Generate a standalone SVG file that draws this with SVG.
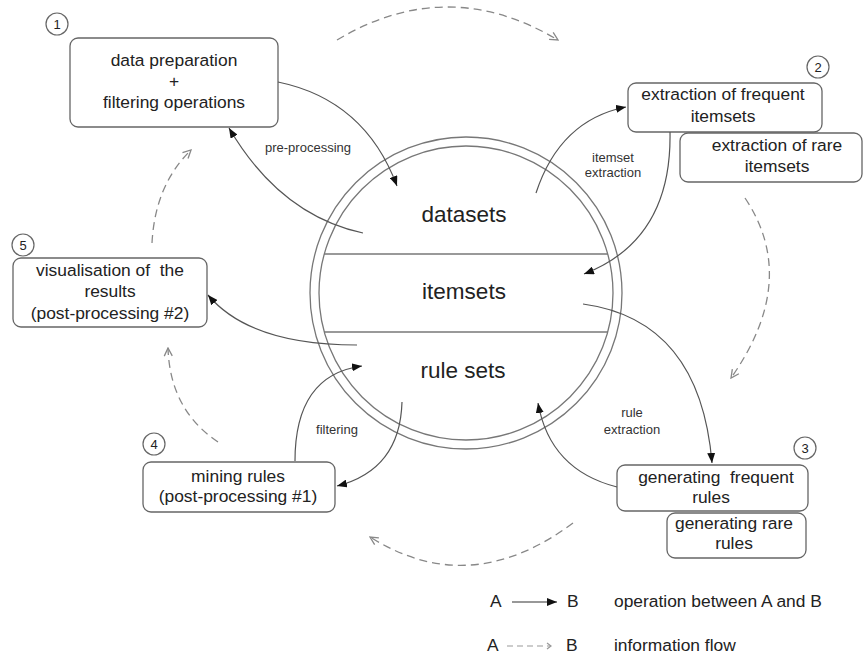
<svg xmlns="http://www.w3.org/2000/svg" width="864" height="655" viewBox="0 0 864 655">
<defs>
<style>
text{font-family:"Liberation Sans",Arial,sans-serif;fill:#222;}
.t{font-size:17.4px;text-anchor:middle;}
.big{font-size:22.5px;text-anchor:middle;}
.lbl{font-size:13px;text-anchor:middle;fill:#333;}
.num{font-size:13px;text-anchor:middle;}
.box{fill:#fff;stroke:#666;stroke-width:1.3;}
.nc{fill:#fff;stroke:#666;stroke-width:1.2;}
.ring{fill:none;stroke:#777;stroke-width:1.3;}
.sep{stroke:#777;stroke-width:1.3;}
.op{fill:none;stroke:#555;stroke-width:1.2;marker-end:url(#ah);}
.flow{fill:none;stroke:#888;stroke-width:1.3;stroke-dasharray:8 5;marker-end:url(#oh);}
</style>
<marker id="ah" viewBox="0 0 10 8" refX="10" refY="4" markerWidth="10" markerHeight="8" markerUnits="userSpaceOnUse" orient="auto"><path d="M0,0 L10,4 L0,8 z" fill="#111"/></marker>
<marker id="oh" viewBox="0 0 10 10" refX="9" refY="5" markerWidth="10" markerHeight="10" markerUnits="userSpaceOnUse" orient="auto"><path d="M1,1 L9,5 L1,9" fill="none" stroke="#888" stroke-width="1.3"/></marker>
</defs>
<rect width="864" height="655" fill="#fff"/>

<g id="store">
<circle class="ring" cx="466" cy="293" r="156"/>
<circle class="ring" cx="466" cy="293" r="147"/>
<line class="sep" x1="324" y1="254" x2="608" y2="254"/>
<line class="sep" x1="324" y1="332" x2="608" y2="332"/>
<text class="big" x="464" y="222">datasets</text>
<text class="big" x="464" y="299">itemsets</text>
<text class="big" x="463" y="378">rule sets</text>
</g>

<g id="node1">
<rect class="box" x="70" y="38" width="208" height="89" rx="8"/>
<text class="t" x="174" y="66">data preparation</text>
<text class="t" x="174" y="87">+</text>
<text class="t" x="174" y="108">filtering operations</text>
<circle class="nc" cx="57" cy="24" r="11"/><text class="num" x="57" y="29">1</text>
</g>

<g id="node2b">
<rect class="box" x="680" y="133" width="182" height="49" rx="8"/>
<text class="t" x="777" y="151">extraction of rare</text>
<text class="t" x="777" y="172">itemsets</text>
</g>
<g id="node2">
<rect class="box" x="628" y="83" width="194" height="49" rx="8"/>
<text class="t" x="723" y="100">extraction of frequent</text>
<text class="t" x="723" y="122">itemsets</text>
<circle class="nc" cx="818" cy="67" r="11"/><text class="num" x="818" y="72">2</text>
</g>

<g id="node3b">
<rect class="box" x="667" y="513" width="139" height="45" rx="8"/>
<text class="t" x="734" y="529">generating rare</text>
<text class="t" x="734" y="549">rules</text>
</g>
<g id="node3">
<rect class="box" x="617" y="465" width="191" height="46" rx="8"/>
<text class="t" x="716" y="483" xml:space="preserve">generating  frequent</text>
<text class="t" x="711" y="503">rules</text>
<circle class="nc" cx="805" cy="448" r="11"/><text class="num" x="805" y="453">3</text>
</g>

<g id="node4">
<rect class="box" x="143" y="462" width="192" height="50" rx="8"/>
<text class="t" x="238" y="482">mining rules</text>
<text class="t" x="238" y="502">(post-processing #1)</text>
<circle class="nc" cx="154" cy="444" r="11"/><text class="num" x="154" y="449">4</text>
</g>

<g id="node5">
<rect class="box" x="13" y="258" width="194" height="69" rx="8"/>
<text class="t" x="110" y="276" xml:space="preserve">visualisation of  the</text>
<text class="t" x="110" y="297">results</text>
<text class="t" x="110" y="319">(post-processing #2)</text>
<circle class="nc" cx="23" cy="245" r="11"/><text class="num" x="23" y="250">5</text>
</g>

<g id="connectors">
<path class="op" d="M363,233 Q280,215 229,128"/>
<path class="op" d="M278,82 Q365,100 397,186"/>
<path class="op" d="M536,193 Q560,120 626,107"/>
<path class="op" d="M670,132 Q672,240 584,274"/>
<path class="op" d="M583,304 Q700,320 712,463"/>
<path class="op" d="M617,487 Q550,470 538,403"/>
<path class="op" d="M402,402 Q400,470 337,486"/>
<path class="op" d="M295,461 Q295,375 362,366"/>
<path class="op" d="M357,345 Q250,345 208,295"/>
<path class="flow" d="M337,40 Q447,-26 558,40"/>
<path class="flow" d="M745,198 Q800,280 731,378"/>
<path class="flow" d="M573,523 Q470,600 370,537"/>
<path class="flow" d="M218,442 Q170,410 168,348"/>
<path class="flow" d="M152,243 Q155,185 191,150"/>
<text class="lbl" x="308" y="152">pre-processing</text>
<text class="lbl" x="613" y="162">itemset</text>
<text class="lbl" x="613" y="177">extraction</text>
<text class="lbl" x="632" y="417">rule</text>
<text class="lbl" x="632" y="434">extraction</text>
<text class="lbl" x="337" y="434">filtering</text>
</g>

<g id="legend">
<text x="490" y="607" style="font-size:17.4px">A</text>
<line x1="512" y1="602" x2="557" y2="602" stroke="#333" stroke-width="1.2" marker-end="url(#ah)"/>
<text x="567" y="607" style="font-size:17.4px">B</text>
<text x="614" y="607" style="font-size:17.4px">operation between A and B</text>
<text x="487" y="651" style="font-size:17.4px">A</text>
<line x1="507" y1="646" x2="551" y2="646" stroke="#999" stroke-width="1.2" stroke-dasharray="6 4"/>
<path d="M547,643 L551,646 L547,649" fill="none" stroke="#999" stroke-width="1.2"/>
<text x="566" y="651" style="font-size:17.4px">B</text>
<text x="614" y="651" style="font-size:17.4px">information flow</text>
</g>
</svg>
